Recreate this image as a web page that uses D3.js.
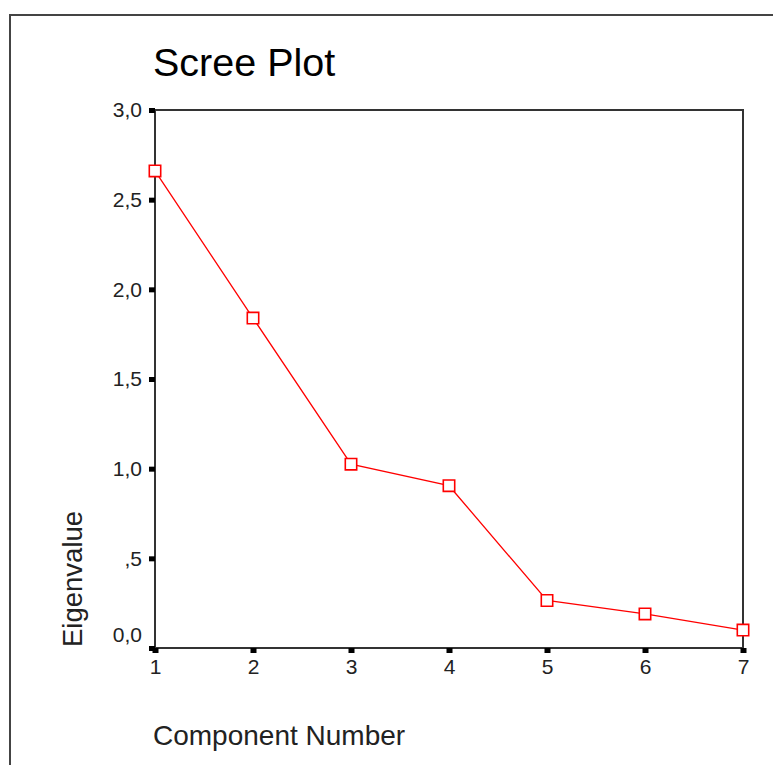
<!DOCTYPE html>
<html><head><meta charset="utf-8">
<script src="https://cdn.jsdelivr.net/npm/d3@7"></script>
<style>body{margin:0;background:#fff;}svg{display:block;font-family:"Liberation Sans",Arial,sans-serif;}</style>
</head><body>
<script>
const components = [1, 2, 3, 4, 5, 6, 7];
const eigenvalues = [2.66, 1.84, 1.025, 0.905, 0.265, 0.19, 0.10];
const yTicks = [0, 0.5, 1.0, 1.5, 2.0, 2.5, 3.0];
const yTickLabels = ["0,0", ",5", "1,0", "1,5", "2,0", "2,5", "3,0"];
const xTicks = [1, 2, 3, 4, 5, 6, 7];

const W = 773, H = 765;
const m = {left:155, top:110, right:743, bottom:648};
const svg = d3.select("body").append("svg").attr("width", W).attr("height", H);

// outer border
svg.append("rect").attr("x",10).attr("y",15).attr("width",W+20).attr("height",H+20)
  .attr("fill","none").attr("stroke","#444").attr("stroke-width",2);

const x = d3.scaleLinear().domain([1,7]).range([m.left, m.right]);
const y = d3.scaleLinear().domain([0,3]).range([m.bottom, m.top]);

// frame
svg.append("rect").attr("x",m.left).attr("y",m.top)
  .attr("width",m.right-m.left).attr("height",m.bottom-m.top)
  .attr("fill","none").attr("stroke","#333").attr("stroke-width",2);

// y axis ticks
const yAxis = d3.axisLeft(y).tickValues(yTicks).tickSize(0).tickPadding(13)
  .tickFormat((d,i)=>yTickLabels[i]);
const gy = svg.append("g").attr("transform",`translate(${m.left},0)`).call(yAxis);
gy.select(".domain").remove();
gy.selectAll("text").attr("font-size",21).attr("fill","#222")
  .attr("font-family","'Liberation Sans',Arial,sans-serif")
  .attr("dy", d => d===0 ? "-0.32em" : "0.32em");
gy.selectAll(".tick").append("rect").attr("x",-6).attr("y",-2.5).attr("width",6).attr("height",5).attr("fill","#000");

// x axis ticks
const xAxis = d3.axisBottom(x).tickValues(xTicks).tickSize(0).tickPadding(11).tickFormat(d3.format("d"));
const gx = svg.append("g").attr("transform",`translate(0,${m.bottom})`).call(xAxis);
gx.select(".domain").remove();
gx.selectAll("text").attr("font-size",21).attr("fill","#222")
  .attr("font-family","'Liberation Sans',Arial,sans-serif");
gx.selectAll(".tick").append("rect").attr("x",-3).attr("y",0).attr("width",6).attr("height",5).attr("fill","#000");

// line
const data = components.map((c,i)=>({c, v:eigenvalues[i]}));
svg.append("path").datum(data)
  .attr("d", d3.line().x(d=>x(d.c)).y(d=>y(d.v)))
  .attr("fill","none").attr("stroke","#ff0000").attr("stroke-width",1.3);

svg.selectAll(".pt").data(data).enter().append("path").attr("class","pt")
  .attr("transform", d=>`translate(${x(d.c)},${y(d.v)})`)
  .attr("d", d3.symbol().type(d3.symbolSquare).size(130))
  .attr("fill","#fff").attr("stroke","#ff0000").attr("stroke-width",1.6);

// title
svg.append("text").attr("x",153).attr("y",76).attr("font-size",39.5).attr("fill","#000")
  .text("Scree Plot");

// axis titles
svg.append("text").attr("x",153).attr("y",745).attr("font-size",28).attr("fill","#222")
  .text("Component Number");
svg.append("text").attr("transform","translate(82,647) rotate(-90)").attr("font-size",27.5).attr("fill","#222")
  .text("Eigenvalue");
</script>
</body></html>
